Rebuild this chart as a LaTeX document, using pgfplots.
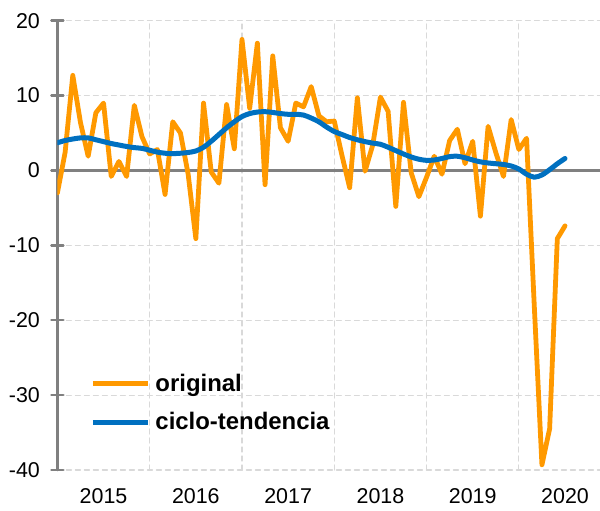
\documentclass[border=0pt]{standalone}
\usepackage{fontspec}
\setmainfont{Liberation Sans}
\usepackage{pgfplots}
\usepackage{pgfplotstable}
\pgfplotsset{compat=1.18}
\definecolor{orig}{HTML}{FF9900}
\definecolor{trend}{HTML}{0070C0}
\definecolor{axgray}{HTML}{808080}
\definecolor{gridc}{HTML}{D9D9D9}
\pgfplotstableread{
i orig trend
0 -3.0 3.7
1 2.4 4.0
2 12.7 4.2
3 6.4 4.35
4 1.9 4.35
5 7.7 4.1
6 9.0 3.85
7 -0.8 3.6
8 1.2 3.4
9 -0.8 3.2
10 8.7 3.05
11 4.5 2.95
12 2.2 2.7
13 2.8 2.45
14 -3.2 2.3
15 6.5 2.25
16 5.0 2.3
17 -0.5 2.4
18 -9.1 2.6
19 9.0 3.1
20 -0.2 3.9
21 -1.7 4.8
22 8.8 5.7
23 2.9 6.5
24 17.5 7.2
25 8.3 7.6
26 17.0 7.8
27 -1.9 7.85
28 15.3 7.75
29 5.7 7.6
30 3.9 7.5
31 9.0 7.5
32 8.5 7.4
33 11.2 7.0
34 7.3 6.5
35 6.5 5.8
36 6.6 5.2
37 2.0 4.8
38 -2.3 4.4
39 9.7 4.1
40 -0.1 3.85
41 3.4 3.65
42 9.8 3.5
43 7.9 3.1
44 -4.8 2.65
45 9.1 2.2
46 -0.3 1.8
47 -3.5 1.5
48 -0.9 1.35
49 1.9 1.4
50 -0.5 1.6
51 4.0 1.85
52 5.5 1.9
53 0.9 1.7
54 3.9 1.4
55 -6.1 1.15
56 5.9 1.0
57 2.4 0.9
58 -0.8 0.8
59 6.8 0.6
60 2.8 0.2
61 4.3 -0.5
62 -18.0 -0.9
63 -39.3 -0.6
64 -34.5 0.1
65 -9.1 0.9
66 -7.4 1.6
}\data
\begin{document}
\begin{tikzpicture}
\useasboundingbox (0,0) rectangle (600bp,511bp);
\begin{axis}[
  at={(57.4bp,41bp)}, anchor=south west,
  scale only axis, width=542.6bp, height=449.3bp,
  xmin=0, xmax=70.55, ymin=-40, ymax=20,
  axis y line*=left, axis x line*=bottom,
  x axis line style={draw=none},
  y axis line style={axgray, line width=2.5bp},
  xtick={6,18,30,42,54,66},
  xticklabels={2015,2016,2017,2018,2019,2020},
  minor xtick={12,24,36,48,60},
  xminorgrids, ymajorgrids,
  minor grid style={gridc, line width=1.2bp, dash pattern=on 5bp off 4bp},
  major grid style={gridc, line width=1.2bp, dash pattern=on 5bp off 4bp},
  ytick={-40,-30,...,20},
  xtick style={draw=none}, minor x tick style={draw=none},
  ytick style={axgray, line width=2.5bp},
  major tick length=12bp, tick align=center,
  tick label style={font=\fontsize{21.5}{25}\selectfont, /pgf/number format/assume math mode=true},
  yticklabel style={xshift=-8bp},
  xticklabel style={yshift=-9bp},
  legend style={legend cell align=left, draw=none, fill=none, inner sep=0pt, outer sep=0pt,
    at={(axis cs:4.3,-31.0)}, anchor=west, row sep=18bp, column sep=4bp,
    font=\fontsize{24}{28}\selectfont\bfseries, nodes={inner sep=1bp}},
  legend image code/.code={\draw[#1] (0bp,0bp) -- (55bp,0bp);},
  line join=round, line cap=round,
]
\draw[axgray, line width=2.5bp] (axis cs:0,0) -- (axis cs:70.55,0);
\pgfplotsinvokeforeach{12,24,36,48,60}{\draw[axgray, line width=2.5bp] (axis cs:#1,0) ++(0,-4bp) -- ++(0,8bp);}
\addplot[orig, line width=4.8bp, mark=none] table[x=i, y=orig] {\data};
\addlegendentry{original}
\addplot[trend, line width=5bp, mark=none, smooth] table[x=i, y=trend] {\data};
\addlegendentry{ciclo-tendencia}
\end{axis}
\end{tikzpicture}
\end{document}
